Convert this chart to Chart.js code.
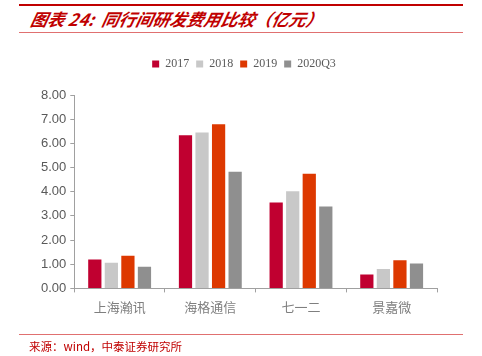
<!DOCTYPE html>
<html><head><meta charset="utf-8">
<script src="https://cdn.jsdelivr.net/npm/chart.js@4"></script>
<style>
html,body{margin:0;padding:0;background:#fff;}
#wrap{position:relative;width:482px;height:356px;overflow:hidden;}
#c{position:absolute;left:0;top:0;}
.line{position:absolute;}
#title{position:absolute;left:31px;top:7px;font-family:"Noto Sans CJK SC";font-weight:bold;font-style:italic;font-size:17px;line-height:24px;color:#c00000;white-space:nowrap;transform:skewX(-12deg);}
#src{position:absolute;left:29px;top:338px;font-family:"Noto Sans CJK SC";font-size:11.5px;line-height:16px;color:#c00000;white-space:nowrap;}
</style></head>
<body><div id="wrap">
<div class="line" style="left:19px;top:4px;width:444px;height:2px;background:#c00000;"></div>
<div id="title">图表 24:&nbsp; 同行间研发费用比较（亿元）</div>
<div class="line" style="left:19px;top:32px;width:444px;height:1px;background:#e07070;"></div>
<canvas id="c" width="482" height="356"></canvas>
<div class="line" style="left:19px;top:334px;width:444px;height:1px;background:#e07070;"></div>
<div id="src">来源：wind，中泰证券研究所</div>
</div>
<script>
const categories = ["上海瀚讯", "海格通信", "七一二", "景嘉微"];
const seriesNames = ["2017", "2018", "2019", "2020Q3"];
const v2017 = [1.20, 6.34, 3.55, 0.57];
const v2018 = [1.06, 6.45, 4.02, 0.80];
const v2019 = [1.35, 6.79, 4.74, 1.16];
const v2020Q3 = [0.90, 4.83, 3.39, 1.03];
const yTicks = [0, 1, 2, 3, 4, 5, 6, 7, 8];
const colors = ["#c00030", "#c8c8c8", "#dd3800", "#8f8f8f"];
const allValues = [v2017, v2018, v2019, v2020Q3];

const legendMargin = {
  id: 'legendMargin',
  beforeInit(chart) {
    const orig = chart.legend.fit;
    chart.legend.fit = function () { orig.call(this); this.height += 15; };
  },
  afterLayout(chart) {
    chart.legend.left += 7;
    chart.legend.right += 7;
  }
};

new Chart(document.getElementById('c'), {
  type: 'bar',
  data: {
    labels: categories,
    datasets: seriesNames.map((n, i) => ({
      label: n, data: allValues[i], backgroundColor: colors[i],
      barPercentage: 0.8, categoryPercentage: 0.73
    }))
  },
  options: {
    responsive: false, animation: false,
    layout: { padding: { left: 37, right: 45, top: 51, bottom: 34 } },
    plugins: {
      legend: {
        position: 'top',
        labels: { boxWidth: 7, boxHeight: 7, padding: 7, color: '#595959',
          font: { family: "'Liberation Serif', serif", size: 12 } }
      },
      tooltip: { enabled: false }
    },
    scales: {
      x: {
        grid: { display: true, drawOnChartArea: false, offset: true, tickLength: 4, color: '#a0a0a0' },
        border: { color: '#a0a0a0', width: 1 },
        ticks: { color: '#7f7f7f', font: { family: "'Noto Sans CJK SC', sans-serif", size: 13 }, padding: 7 }
      },
      y: {
        min: 0, max: 8,
        afterBuildTicks: (s) => { s.ticks = yTicks.map(v => ({ value: v })); },
        grid: { display: true, drawOnChartArea: false, tickLength: 4, color: '#a0a0a0' },
        border: { color: '#a0a0a0', width: 1 },
        ticks: { color: '#595959', font: { family: "'Liberation Sans', Arial, sans-serif", size: 13 }, padding: 4,
          callback: (v) => Number(v).toFixed(2) }
      }
    }
  },
  plugins: [legendMargin]
});
</script>
</body></html>
